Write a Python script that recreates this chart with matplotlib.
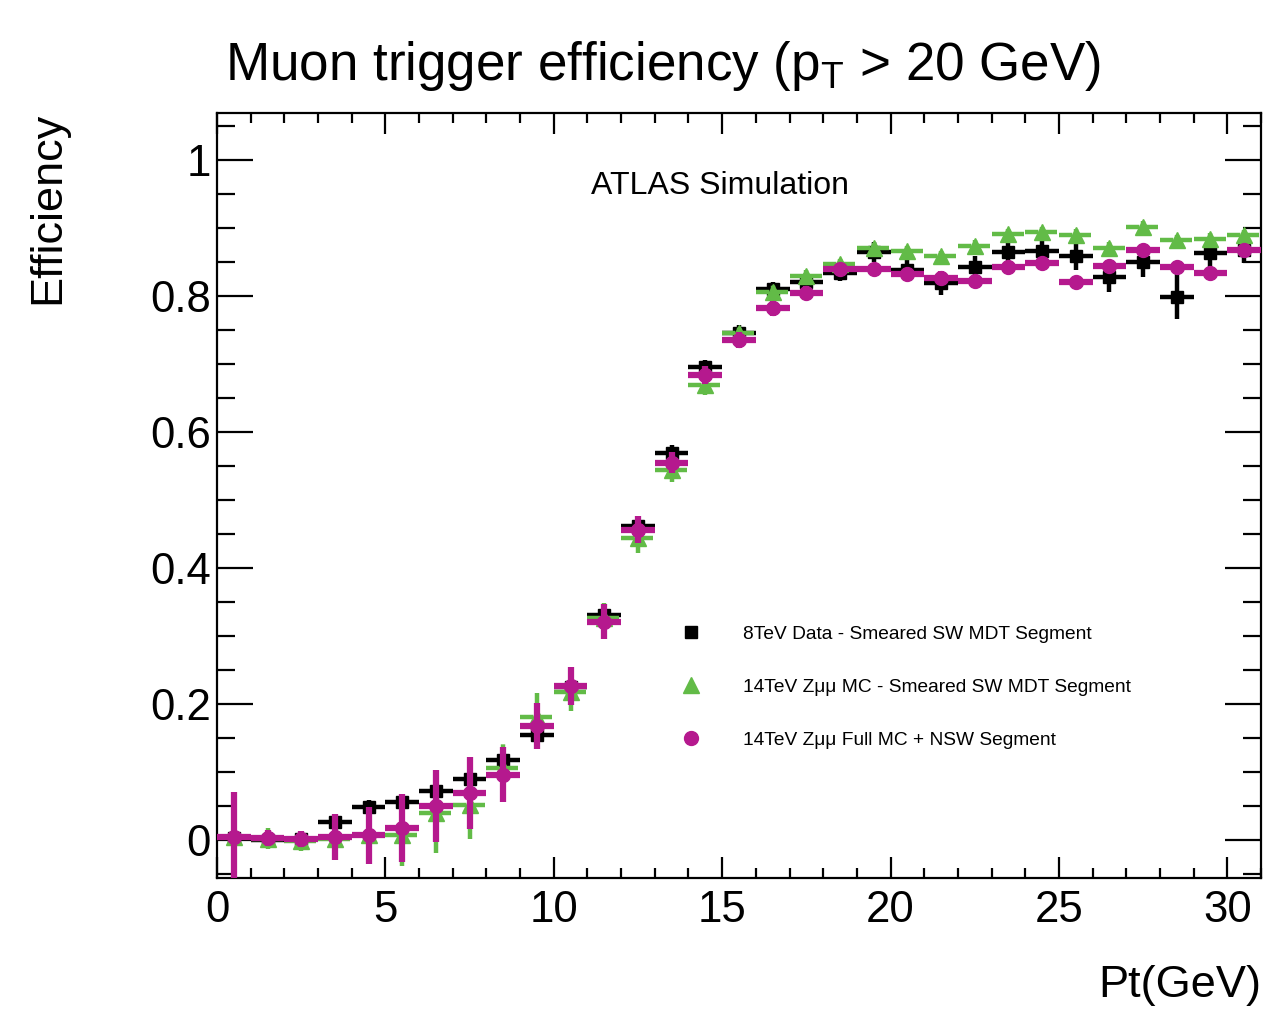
import matplotlib.pyplot as plt
from matplotlib.lines import Line2D
from matplotlib.ticker import MultipleLocator
import numpy as np

plt.rcParams['font.family'] = ['Liberation Sans', 'DejaVu Sans']

# bin centres in Pt (GeV), width 1
pt = np.arange(0.5, 31, 1.0)

data8 = [0.003, 0.0, 0.002, 0.027, 0.049, 0.056, 0.072, 0.090, 0.118, 0.154,
         0.225, 0.331, 0.461, 0.569, 0.695, 0.746, 0.810, 0.821, 0.834, 0.865,
         0.838, 0.819, 0.842, 0.865, 0.866, 0.858, 0.828, 0.850, 0.799, 0.863, 0.868]
data8_err = [0.006, 0.008, 0.008, 0.010, 0.010, 0.010, 0.011, 0.011, 0.012, 0.014,
             0.014, 0.014, 0.013, 0.012, 0.011, 0.011, 0.011, 0.012, 0.012, 0.015,
             0.015, 0.017, 0.017, 0.017, 0.018, 0.020, 0.022, 0.022, 0.033, 0.020, 0.020]

mc14 = [0.004, 0.002, -0.002, 0.002, 0.007, 0.007, 0.039, 0.051, 0.106, 0.181,
        0.218, 0.326, 0.444, 0.544, 0.669, 0.746, 0.806, 0.829, 0.847, 0.870,
        0.866, 0.858, 0.874, 0.891, 0.894, 0.890, 0.871, 0.902, 0.882, 0.884, 0.889]
mc14_err = [0.050, 0.015, 0.015, 0.030, 0.040, 0.045, 0.058, 0.050, 0.040, 0.035,
            0.028, 0.025, 0.022, 0.018, 0.015, 0.013, 0.010, 0.009, 0.008, 0.008,
            0.008, 0.008, 0.008, 0.008, 0.008, 0.008, 0.008, 0.008, 0.008, 0.008, 0.008]

nsw = [0.005, 0.003, 0.001, 0.004, 0.007, 0.017, 0.050, 0.069, 0.096, 0.167,
       0.226, 0.321, 0.456, 0.555, 0.684, 0.735, 0.782, 0.804, 0.840, 0.840,
       0.832, 0.827, 0.822, 0.842, 0.848, 0.821, 0.844, 0.867, 0.842, 0.834, 0.867]
nsw_err = [0.065, 0.012, 0.012, 0.034, 0.042, 0.050, 0.053, 0.053, 0.040, 0.034,
           0.028, 0.026, 0.020, 0.015, 0.013, 0.012, 0.011, 0.010, 0.009, 0.009,
           0.009, 0.009, 0.009, 0.009, 0.009, 0.009, 0.009, 0.009, 0.009, 0.009, 0.009]

labels = ['8TeV Data - Smeared SW MDT Segment',
          '14TeV Z\u03bc\u03bc MC - Smeared SW MDT Segment',
          '14TeV Z\u03bc\u03bc Full MC + NSW Segment']

black = '#000000'
green = '#62bb47'
magenta = '#b5198e'

fig = plt.figure(figsize=(12.72, 10.18), dpi=100)
ax = fig.add_axes([217 / 1272, 140 / 1018, 1044 / 1272, 765 / 1018])

ax.errorbar(pt, data8, xerr=0.5, yerr=data8_err, fmt='s', color=black,
            ms=8.5, elinewidth=3.2, capsize=0, zorder=3)
eb = ax.errorbar(pt, mc14, xerr=0.5, yerr=mc14_err, fmt='^', color=green,
                 ms=11, elinewidth=3.2, capsize=0, zorder=4)
eb[2][0].set_linestyle((0, (3, 1.2)))
eb[2][1].set_linestyle((0, (3, 1.2)))
ax.errorbar(pt, nsw, xerr=0.5, yerr=nsw_err, fmt='o', color=magenta,
            ms=10, elinewidth=4.5, capsize=0, zorder=5)

ax.set_xlim(0, 31)
ax.set_ylim(-0.056, 1.069)
ax.xaxis.set_major_locator(MultipleLocator(5))
ax.xaxis.set_minor_locator(MultipleLocator(1))
ax.yaxis.set_major_locator(MultipleLocator(0.2))
ax.yaxis.set_minor_locator(MultipleLocator(0.05))
ax.set_yticks([0, 0.2, 0.4, 0.6, 0.8, 1.0])
ax.set_yticklabels(['0', '0.2', '0.4', '0.6', '0.8', '1'])

ax.tick_params(direction='in', top=True, right=True, which='both', width=1.6,
               labelsize=31.5)
ax.tick_params(axis='y', which='major', length=26, pad=4.5)
ax.tick_params(axis='y', which='minor', length=13)
ax.tick_params(axis='x', which='major', length=15, pad=9)
ax.tick_params(axis='x', which='minor', length=7.5)
for s in ax.spines.values():
    s.set_linewidth(1.6)

fig.text(225 / 1272, 1 - 80 / 1018, 'Muon trigger efficiency (p$_\\mathregular{T}$ > 20 GeV)',
         fontsize=38.2, ha='left', va='baseline')
ax.text(0.358, 0.905, 'ATLAS Simulation', transform=ax.transAxes, fontsize=23,
        ha='left', va='center')

fig.text(1261 / 1272, 1 - 985 / 1018, 'Pt(GeV)', fontsize=32.5, ha='right', va='center')
fig.text(48 / 1272, 1 - 112 / 1018, 'Efficiency', fontsize=32.5, rotation=90,
         ha='center', va='top')

handles = [Line2D([], [], ls='', marker='s', color=black, ms=8.5),
           Line2D([], [], ls='', marker='^', color=green, ms=11),
           Line2D([], [], ls='', marker='o', color=magenta, ms=10)]
ax.legend(handles, labels, loc='upper left', bbox_to_anchor=(0.436, 0.330),
          frameon=False, fontsize=13.8, borderpad=0, borderaxespad=0,
          labelspacing=1.86, handlelength=2, handletextpad=1.67)

fig.savefig('out.png', dpi=100)
